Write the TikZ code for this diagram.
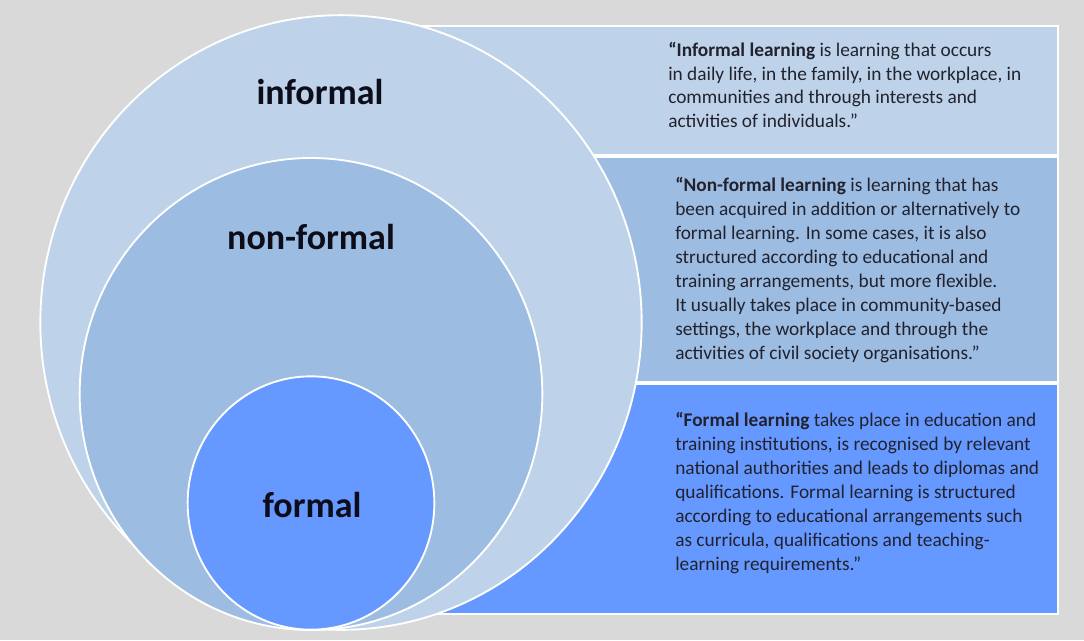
\documentclass[tikz,border=0pt]{standalone}
\usepackage{fontspec}
\setmainfont{Carlito}
\usepackage{xcolor}
\usetikzlibrary{positioning, shapes.geometric}

\definecolor{backgray}{HTML}{D9D9D9}
\definecolor{informalblue}{HTML}{BED3E9}
\definecolor{nonformalblue}{HTML}{9CBCE1}
\definecolor{formalblue}{HTML}{6699FF}
\definecolor{textdark}{HTML}{22222E}
\definecolor{titledark}{HTML}{0D0D1A}

\begin{document}
\begin{tikzpicture}[
    x=0.75pt, y=-0.75pt,
    ring/.style={ellipse, draw=white, line width=1.4pt, inner sep=0pt},
    panel/.style={rectangle, draw=white, line width=1.4pt, inner sep=0pt, minimum width=536pt},
    ringtitle/.style={font=\fontsize{27}{32}\selectfont\bfseries, text=titledark},
    defntext/.style={anchor=north west, align=left, inner sep=0pt, text=textdark, font=\fontsize{14.5}{18}\selectfont}
]

% Background
\fill[backgray] (0,0) rectangle (1084,640);
\useasboundingbox (0,0) rectangle (1084,640);

% Definition panels
\node[panel, anchor=north west, fill=informalblue, minimum height=96.75pt] (informalbox) at (342,25) {};
\node[panel, below=0pt of informalbox, fill=nonformalblue, minimum height=168.75pt] (nonformalbox) {};
\node[panel, below=0pt of nonformalbox, fill=formalblue, minimum height=173pt] (formalbox) {};

% Definitions
\node[defntext, font=\fontsize{14.5}{17.7}\selectfont] (informaltext) at (668,42) {\textbf{“Informal learning} is learning that occurs\\
in daily life, in the family, in the workplace, in\\
communities and through interests and\\
activities of individuals.”};
\node[defntext] (nonformaltext) at (675,177) {\textbf{“Non-formal learning} is learning that has\\
been acquired in addition or alternatively to\\
formal learning. In some cases, it is also\\
structured according to educational and\\
training arrangements, but more flexible.\\
It usually takes place in community-based\\
settings, the workplace and through the\\
activities of civil society organisations.”};
\node[defntext] (formaltext) at (675,412) {\textbf{“Formal learning} takes place in education and\\
training institutions, is recognised by relevant\\
national authorities and leads to diplomas and\\
qualifications. Formal learning is structured\\
according to educational arrangements such\\
as curricula, qualifications and teaching-\\
learning requirements.”};

% Nested circles
\node[ring, fill=informalblue, minimum width=451pt, minimum height=461pt] (informal) at (341,322.5) {};
\node[ring, fill=nonformalblue, minimum width=347pt, minimum height=354pt] (nonformal) at (311,394) {};
\node[ring, fill=formalblue, minimum width=185pt, minimum height=190pt] (formal) at (311,503) {};

% Circle titles
\node[ringtitle] (informaltitle) at (320,92) {informal};
\node[ringtitle] (nonformaltitle) at (311,237) {non-formal};
\node[ringtitle] (formaltitle) at (312,505) {formal};

\end{tikzpicture}
\end{document}
